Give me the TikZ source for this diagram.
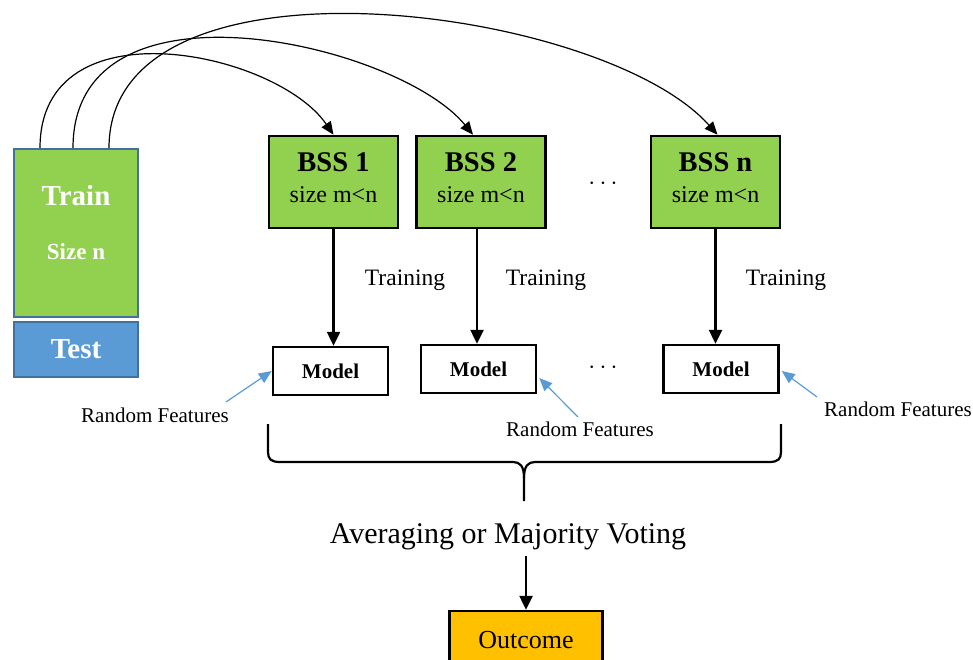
\documentclass[tikz,border=0pt]{standalone}
\usepackage{fontspec}
\setmainfont{Liberation Serif}
\usetikzlibrary{arrows.meta,calc}
\definecolor{tgreen}{HTML}{92D050}
\definecolor{tblue}{HTML}{5B9BD5}
\definecolor{tborder}{HTML}{41719C}
\definecolor{torange}{HTML}{FFC000}
\begin{document}
\begin{tikzpicture}[x=1pt,y=-1pt,
  databox/.style={draw=tborder,line width=2pt,inner sep=0pt,minimum width=124pt},
  bssbox/.style={draw=black,fill=tgreen,line width=2.5pt,minimum width=129pt,minimum height=92pt,inner sep=0pt},
  modelbox/.style={draw=black,fill=white,line width=2.5pt,minimum width=115pt,minimum height=48pt,inner sep=0pt,font=\fontsize{21}{25}\selectfont\bfseries},
  outbox/.style={draw=black,fill=torange,line width=2.5pt,minimum width=153pt,minimum height=58pt,inner sep=0pt,font=\fontsize{26}{30}\selectfont},
  whitebig/.style={text=white,font=\fontsize{29}{34}\selectfont\bfseries,anchor=base,inner sep=0pt},
  whitesmall/.style={text=white,font=\fontsize{23}{27}\selectfont\bfseries,anchor=base,inner sep=0pt},
  bsstitle/.style={font=\fontsize{28.5}{33}\selectfont\bfseries,anchor=base,inner sep=0pt},
  bsssize/.style={font=\fontsize{24}{28}\selectfont,anchor=base,inner sep=0pt},
  trainlbl/.style={font=\fontsize{23.5}{28}\selectfont,anchor=base,inner sep=0pt},
  rflbl/.style={font=\fontsize{21}{25}\selectfont,anchor=base,inner sep=0pt},
  dotslbl/.style={font=\fontsize{30}{34}\selectfont,inner sep=0pt},
  thickarrow/.style={draw=black,line width=2.5pt,-{Triangle[length=14pt,width=13pt]}},
  curvearrow/.style={draw=black,line width=1.2pt,-{Triangle[length=13pt,width=11pt]}},
  bluearrow/.style={draw=tblue,line width=1.2pt,-{Triangle[length=13pt,width=11pt]}}
]
\useasboundingbox (0,0) rectangle (973,660);

% data boxes
\node[databox,fill=tgreen,minimum height=168pt] (train) at (76,233) {};
\node[databox,fill=tblue,minimum height=55pt,text=white,font=\fontsize{29}{34}\selectfont\bfseries] (test) at (76,349.5) {Test};
\node[whitebig] (traint) at (76,206) {Train};
\node[whitesmall] (sizen) at (76,259) {Size n};

% BSS boxes
\node[bssbox] (bss1) at (333.5,182) {};
\node[bssbox] (bss2) at (481,182) {};
\node[bssbox] (bssn) at (715.5,182) {};
\node[bsstitle] (b1t) at (333.5,172) {BSS 1};
\node[bsssize] (b1s) at (333.5,203) {size m<n};
\node[bsstitle] (b2t) at (481,172) {BSS 2};
\node[bsssize] (b2s) at (481,203) {size m<n};
\node[bsstitle] (bnt) at (715.5,172) {BSS n};
\node[bsssize] (bns) at (715.5,203) {size m<n};
\node[dotslbl] (dots1) at (603,184) {$\cdots$};

% model boxes
\node[modelbox] (model1) at (330.5,371) {Model};
\node[modelbox] (model2) at (478.5,369) {Model};
\node[modelbox] (modeln) at (721,369) {Model};
\node[dotslbl] (dots2) at (603,368) {$\cdots$};

% training arrows
\draw[thickarrow] (bss1.south) -- (bss1.south |- model1.north);
\draw[thickarrow] ($(bss2.south)+(-4,0)$) -- ($(bss2.south |- model2.north)+(-4,0)$);
\draw[thickarrow] (bssn.south) -- (bssn.south |- modeln.north);
\node[trainlbl] (tr1) at (405,285) {Training};
\node[trainlbl] (tr2) at (546,285) {Training};
\node[trainlbl] (trn) at (786,285) {Training};

% curved arrows
\coordinate (s1) at (40,148);
\coordinate (s2) at (73,148);
\coordinate (s3) at (109,148);
\draw[curvearrow] (s1) .. controls (40,2) and (276,51) .. (bss1.north);
\draw[curvearrow] (s2) .. controls (73,-32) and (398,43) .. ($(bss2.north)+(-8,0)$);
\draw[curvearrow] (s3) .. controls (109,-59) and (602,5) .. ($(bssn.north)+(2,0)$);

% random features
\node[rflbl] (rf1) at (155,422) {Random Features};
\node[rflbl] (rf2) at (580,436) {Random Features};
\node[rflbl] (rfn) at (898,416) {Random Features};
\coordinate (rf1t) at (226,402);
\coordinate (rf2t) at (578,417);
\coordinate (rfnt) at (817,397);
\draw[bluearrow] (rf1t) -- (model1.west);
\draw[bluearrow] (rf2t) -- ($(model2.east)+(2,9)$);
\draw[bluearrow] (rfnt) -- ($(modeln.east)+(2,2)$);

% brace
\draw[line width=2.2pt] (268,424) -- (268,452) .. controls (268,459) and (271,462) .. (280,462) -- (513,462) .. controls (520,462) and (524,466) .. (524,478) -- (524,501);
\draw[line width=2.2pt] (781,424) -- (781,452) .. controls (781,459) and (778,462) .. (769,462) -- (535,462) .. controls (528,462) and (524,466) .. (524,478);

% averaging and outcome
\node[font=\fontsize{30}{35}\selectfont,anchor=base,inner sep=0pt] (avg) at (508,543) {Averaging or Majority Voting};
\node[outbox] (outcome) at (526,640) {Outcome};
\coordinate (avgb) at (526,556);
\draw[thickarrow] (avgb) -- (outcome.north);
\end{tikzpicture}
\end{document}
